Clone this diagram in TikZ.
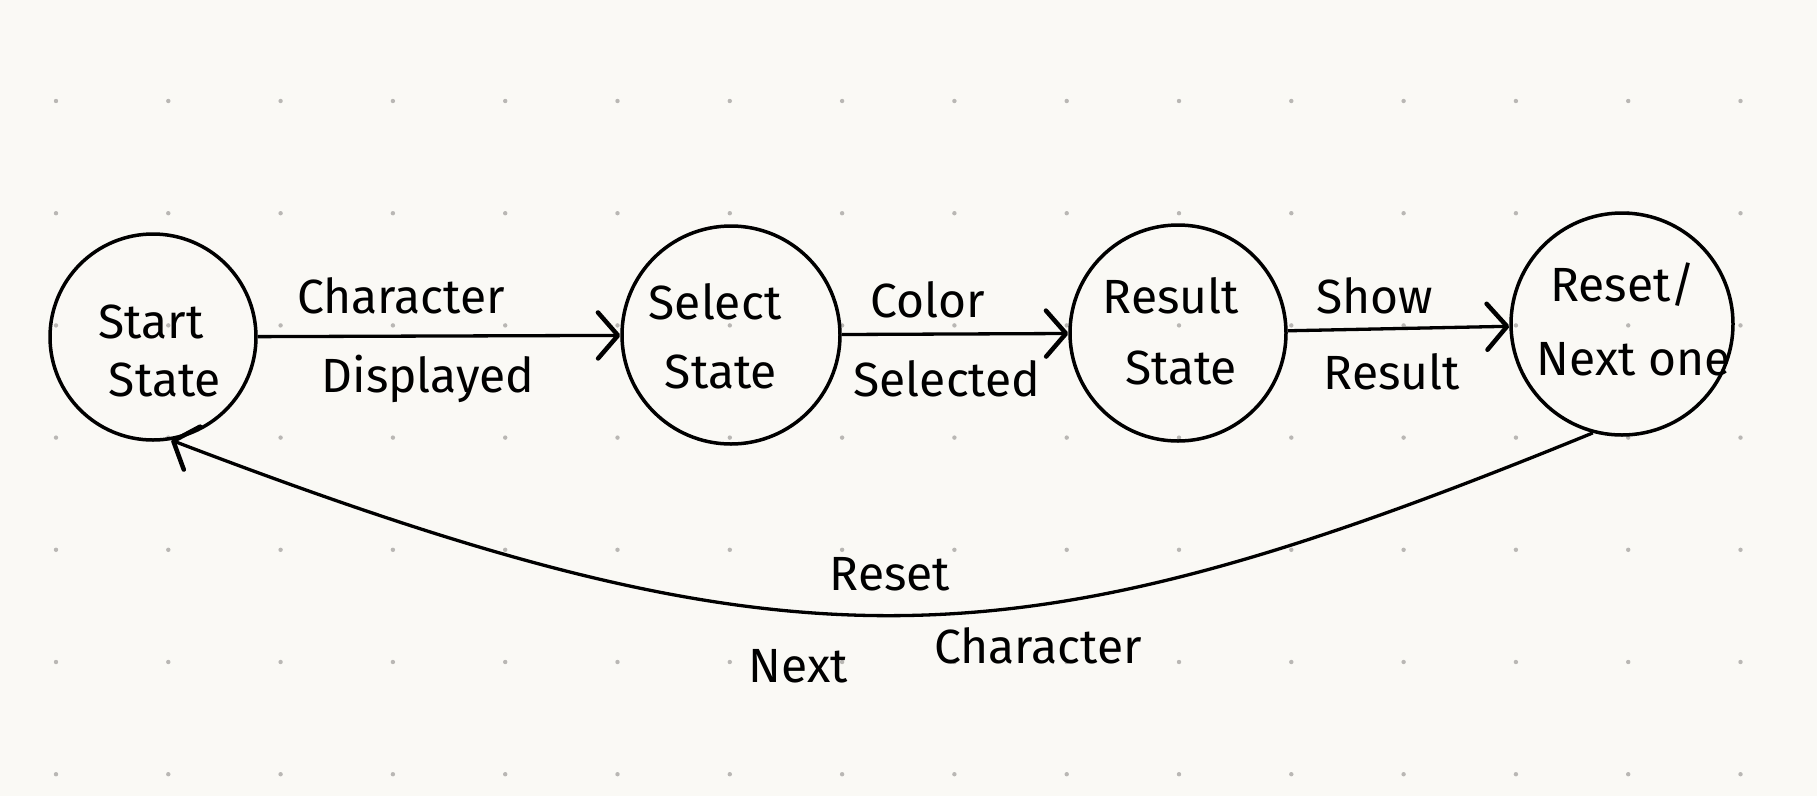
\documentclass[tikz,border=0pt]{standalone}
\usepackage{fontspec}
\setmainfont{Fira Sans}
\usetikzlibrary{arrows.meta}
\definecolor{paper}{RGB}{250,249,245}
\definecolor{dotc}{RGB}{185,183,180}
\begin{document}
\begin{tikzpicture}[x=1pt,y=-1pt,
  state/.style={circle, draw=black, line width=3.5pt, minimum size=#1, inner sep=0pt},
  lab/.style={font=\fontsize{48}{54}\selectfont, inner sep=0pt},
  arr/.style={line width=3.3pt, -{Straight Barb[length=20pt,width=46pt,line width=4.5pt,round]}},
]
\fill[paper] (0,0) rectangle (1817,796);
\useasboundingbox (0,0) rectangle (1817,796);
\foreach \i in {0,...,15} \foreach \j in {0,...,6} \fill[dotc] (56+112.3*\i, 101+112.2*\j) circle (2.2pt);

\node[state=206pt] (start) at (153,337) {};
\node[state=218pt] (select) at (731,335) {};
\node[state=216pt] (result) at (1178,333) {};
\node[state=222pt] (reset) at (1622,324) {};

\node[lab] (t1) at (151,322) {Start};
\node[lab] (t2) at (165,380) {State};
\node[lab] (t3) at (715,302) {Select};
\node[lab] (t4) at (721,372) {State};
\node[lab] (t5) at (1171,296) {Result};
\node[lab] (t6) at (1181,368) {State};
\node[lab] (t7) at (1623,285) {Reset/};
\node[lab] (t8) at (1634,359) {Next one};

\node[lab] (l1) at (401,296) {Character};
\node[lab] (l2) at (428,379) {Displayed};
\node[lab] (l3) at (928,300) {Color};
\node[lab] (l4) at (947,379) {Selected};
\node[lab] (l5) at (1375,296) {Show};
\node[lab] (l6) at (1392,372) {Result};
\node[lab] (l7) at (890,574) {Reset};
\node[lab] (l8) at (798,666) {Next};
\node[lab] (l9) at (1038,646) {Character};

\draw[arr] (start) -- (select);
\draw[arr] (select) -- (result);
\draw[arr] (result) -- (reset);
\draw[arr] (reset.255) .. controls (1013,670) and (800,680) .. (start.280);
\end{tikzpicture}
\end{document}
